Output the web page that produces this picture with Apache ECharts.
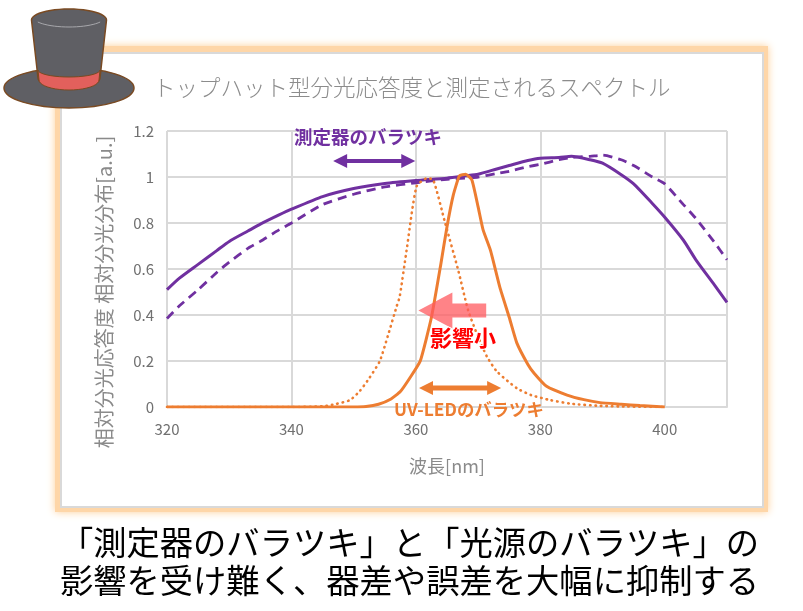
<!DOCTYPE html>
<html lang="ja">
<head>
<meta charset="utf-8">
<title>トップハット型分光応答度と測定されるスペクトル</title>
<script src="https://cdn.jsdelivr.net/npm/echarts@6/dist/echarts.min.js"></script>
<style>
html,body{margin:0;padding:0;background:#fff}
#chart{width:803px;height:611px}
</style>
</head>
<body>
<div id="chart"></div>
<script>
const FONT = '"Noto Sans CJK JP","Noto Sans",sans-serif';

// Spectral response curves of the two instruments
const responseNm = [320,322,325,328,330,333,335,338,340,345,350,355,360,365,368,370,373,375,378,380,383,385,388,390,393,395,398,400,403,405,408,410];
const responseSolid = [0.51,0.56,0.62,0.68,0.72,0.765,0.795,0.835,0.86,0.915,0.95,0.972,0.985,0.995,1.005,1.012,1.035,1.05,1.072,1.082,1.085,1.09,1.075,1.06,1.01,0.97,0.885,0.825,0.725,0.64,0.53,0.455];
const responseDashed = [0.385,0.44,0.51,0.585,0.63,0.69,0.72,0.77,0.80,0.88,0.925,0.957,0.975,0.99,0.995,1.0,1.015,1.025,1.045,1.055,1.075,1.085,1.09,1.095,1.075,1.05,1.0,0.97,0.88,0.82,0.715,0.64];

// UV-LED emission spectra, nominal peak and shifted peak
const ledNm = [320,340,350,352,354,356,357.5,359,360.7,362.5,364,365,366,367,368,369,370,370.8,372,373.5,375,376.2,378,379,381,384.3,387,389.6,393,396,400];
const ledSolid = [0,0,0,0.002,0.012,0.035,0.067,0.125,0.2,0.39,0.62,0.784,0.92,1.005,1.012,0.987,0.87,0.77,0.68,0.52,0.39,0.28,0.185,0.147,0.09,0.052,0.032,0.019,0.012,0.006,0];
const shiftedNm = [320,340,345,347,349.4,351,352.5,354.2,355.5,356.9,357.4,358.5,360.1,361.8,362.8,364.7,366.8,368.4,370,371.4,373,376.2,378.5,381.6,385,389.6,394,400];
const shiftedDotted = [0,0,0.003,0.012,0.03,0.07,0.125,0.2,0.31,0.437,0.48,0.68,0.958,0.995,0.987,0.8,0.595,0.42,0.305,0.22,0.155,0.082,0.052,0.03,0.014,0.005,0.002,0];

const xTicks = {min:320, max:410, step:20};
const yTicks = {min:0, max:1.2, step:0.2};

const pairs = (xs, ys) => xs.map((x, i) => [x, ys[i]]);

const chart = echarts.init(document.getElementById('chart'), null, {renderer:'canvas'});

chart.setOption({
  animation:false,
  backgroundColor:'#ffffff',
  textStyle:{fontFamily:FONT},
  title:{
    text:'トップハット型分光応答度と測定されるスペクトル',
    left:148, top:71,
    textStyle:{fontFamily:FONT, fontSize:22.5, fontWeight:300, color:'#8c8c8c'}
  },
  grid:{left:167, right:76, top:131, bottom:204},
  xAxis:{
    type:'value', min:xTicks.min, max:xTicks.max, interval:xTicks.step,
    name:'波長[nm]', nameLocation:'middle', nameGap:50,
    nameTextStyle:{fontSize:18, color:'#8a8a8a', fontFamily:FONT},
    axisLine:{show:true, lineStyle:{color:'#d9d9d9', width:2}},
    axisTick:{show:false},
    axisLabel:{fontSize:15, color:'#707070', margin:15, fontFamily:FONT, showMaxLabel:false},
    splitLine:{show:true, lineStyle:{color:'#d9d9d9', width:2}}
  },
  yAxis:{
    type:'value', min:yTicks.min, max:yTicks.max, interval:yTicks.step,
    name:'相対分光応答度 相対分光分布[a.u.]', nameLocation:'middle', nameGap:53,
    nameRotate:90,
    nameTextStyle:{fontSize:20, color:'#8a8a8a', fontFamily:FONT, padding:[0,46,0,0]},
    axisLine:{show:false}, axisTick:{show:false},
    axisLabel:{fontSize:15, color:'#707070', margin:13, fontFamily:FONT},
    splitLine:{show:true, lineStyle:{color:'#d9d9d9', width:2}}
  },
  series:[
    {name:'応答度A', type:'line', data:pairs(responseNm, responseSolid), showSymbol:false, smooth:0.2,
     lineStyle:{color:'#7030a0', width:3}, z:3},
    {name:'応答度B', type:'line', data:pairs(responseNm, responseDashed), showSymbol:false, smooth:0.2,
     lineStyle:{color:'#7030a0', width:2.8, type:[9,6]}, z:3},
    {name:'LED', type:'line', data:pairs(ledNm, ledSolid), showSymbol:false, smooth:0.15,
     lineStyle:{color:'#ed7d31', width:3}, z:4},
    {name:'LEDシフト', type:'line', data:pairs(shiftedNm, shiftedDotted), showSymbol:false, smooth:0.2,
     lineStyle:{color:'#ed7d31', width:2.6, type:[0.5,5], cap:'round'}, z:4}
  ]
});

// Horizontal arrow in data coordinates, head at both ends when double is set
function arrow(x0, x1, v, half, headLen, headHalf, color, opacity, double, z){
  const [ax, ay] = chart.convertToPixel('grid', [x0, v]);
  const [bx] = chart.convertToPixel('grid', [x1, v]);
  const pts = double
    ? [[ax,ay],[ax+headLen,ay-headHalf],[ax+headLen,ay-half],[bx-headLen,ay-half],[bx-headLen,ay-headHalf],[bx,ay],
       [bx-headLen,ay+headHalf],[bx-headLen,ay+half],[ax+headLen,ay+half],[ax+headLen,ay+headHalf]]
    : [[ax,ay],[ax+headLen,ay-headHalf],[ax+headLen,ay-half],[bx,ay-half],[bx,ay+half],[ax+headLen,ay+half],[ax+headLen,ay+headHalf]];
  return {type:'polygon', shape:{points:pts}, style:{fill:color, opacity:opacity}, z:z};
}

function note(text, x, y, size, color, weight, extra){
  return {type:'text', x:x, y:y, z:60,
    style:Object.assign({text:text, font:`${weight} ${size}px ${FONT}`, fill:color, textAlign:'center', textVerticalAlign:'middle'}, extra||{})};
}

// Points along an elliptical arc, angles in degrees
function arc(cx, cy, rx, ry, from, to, n){
  const out = [];
  for (let i = 0; i <= n; i++){
    const a = (from + (to - from) * i / n) * Math.PI / 180;
    out.push([cx + rx * Math.cos(a), cy + ry * Math.sin(a)]);
  }
  return out;
}

const HAT_GREY = '#5f5f64', HAT_EDGE = '#7a4a22';
const hatParts = [
  {type:'ellipse', shape:{cx:69,cy:88,rx:65,ry:20}, style:{fill:HAT_GREY, stroke:HAT_EDGE, lineWidth:1.5}, z:80},
  {type:'polygon', shape:{points:[...arc(69,20,37.5,11,180,360,24), ...arc(69,78,31,10,0,180,24)]},
   style:{fill:HAT_GREY, stroke:HAT_EDGE, lineWidth:1.5}, z:81},
  {type:'polygon', shape:{points:[...arc(69,70,31,7,180,0,20), ...arc(69,80,30,10,0,180,20)]},
   style:{fill:'#e2605c', stroke:HAT_EDGE, lineWidth:1}, z:82},
  {type:'polyline', shape:{points:arc(69,17,36,10,150,30,20)},
   style:{fill:'none', stroke:'#a8a8ac', lineWidth:1}, z:82}
];

chart.setOption({
  graphic:{elements:[
    {type:'rect', shape:{x:55,y:46,width:713,height:466}, z:-20,
     style:{fill:'#fed6a8', shadowBlur:8, shadowColor:'#fdcf98'}},
    {type:'rect', shape:{x:61,y:53,width:702,height:454}, z:-19,
     style:{fill:'#ffffff', stroke:'#d9d9d9', lineWidth:2}},
    ...hatParts,
    arrow(346.7, 359.9, 1.07, 2, 14, 7, '#7030a0', 1, true, 50),
    arrow(360.5, 373.7, 0.083, 2.5, 14, 7, '#ed7d31', 1, true, 50),
    arrow(360.4, 371.3, 0.42, 7, 34, 18, '#ff5a5f', 0.75, false, 50),
    note('測定器のバラツキ', 368, 137, 18.5, '#7030a0', 'bold'),
    note('UV-LEDのバラツキ', 469, 409, 17.4, '#ed7d31', 'bold'),
    note('影響小', 463, 338, 22, '#ff0000', 'bold', {stroke:'#ffffff', lineWidth:2}),
    note('「測定器のバラツキ」と「光源のバラツキ」の', 409.5, 542, 33.3, '#000000', 'normal'),
    note('影響を受け難く、器差や誤差を大幅に抑制する', 409.5, 580, 33.3, '#000000', 'normal')
  ]}
});
</script>
</body>
</html>
